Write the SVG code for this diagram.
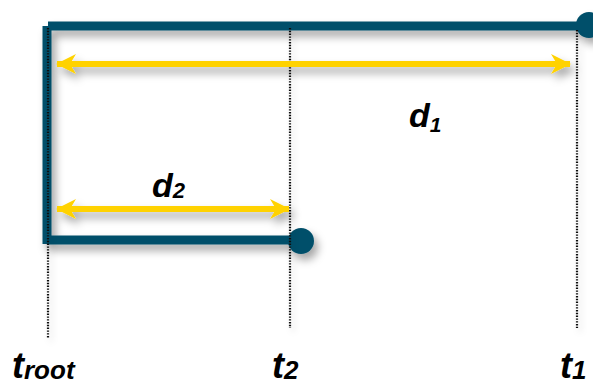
<svg xmlns="http://www.w3.org/2000/svg" width="593" height="385" viewBox="0 0 593 385">
<style>
.bar{stroke:#02506b;stroke-width:9;fill:none;stroke-linecap:butt}
.dot{stroke:#111;stroke-width:2.2;stroke-dasharray:1.4 1.4;fill:none}
.arr{stroke:#ffd200;stroke-width:6;fill:none}
.lbl{font-family:"Liberation Sans",Arial,sans-serif;font-weight:bold;font-style:italic;fill:#000}
</style>
<defs>
<filter id="sh" x="-20%" y="-20%" width="140%" height="160%">
<feDropShadow dx="4" dy="6" stdDeviation="4" flood-color="#000" flood-opacity="0.35"/>
</filter>
<filter id="shl" x="-200%" y="-5%" width="500%" height="110%">
<feDropShadow dx="3" dy="4" stdDeviation="3" flood-color="#000" flood-opacity="0.2"/>
</filter>
<marker id="ah" viewBox="0 0 20 20" refX="19" refY="10" markerWidth="20" markerHeight="20" markerUnits="userSpaceOnUse" orient="auto-start-reverse">
<path d="M0,0 L20,10 L0,20 L6,10 Z" fill="#ffd200"/>
</marker>
</defs>
<g id="connectors">
<g id="tree" filter="url(#sh)">
<path class="bar" d="M48,26 H585"/>
<path class="bar" d="M47,26 V244"/>
<path class="bar" d="M47,240 H300"/>
<circle cx="589" cy="25" r="13" fill="#02506b"/>
<circle cx="301" cy="241" r="13" fill="#02506b"/>
</g>
<g id="guides" filter="url(#shl)">
<line class="dot" x1="48" y1="28" x2="48" y2="338"/>
<line class="dot" x1="290" y1="28" x2="290" y2="328"/>
<line class="dot" x1="577" y1="30" x2="577" y2="328"/>
</g>
<g id="arrows" filter="url(#sh)">
<line class="arr" x1="57" y1="64" x2="570" y2="64" marker-start="url(#ah)" marker-end="url(#ah)"/>
<line class="arr" x1="57" y1="209" x2="289" y2="209" marker-start="url(#ah)" marker-end="url(#ah)"/>
</g>
</g>
<g id="d1"><text class="lbl" x="409" y="127" font-size="34">d<tspan font-size="21" dy="5">1</tspan></text></g>
<g id="d2"><text class="lbl" x="152" y="197" font-size="34">d<tspan font-size="22" dy="1">2</tspan></text></g>
<g id="troot"><text class="lbl" x="12" y="378" font-size="36">t<tspan font-size="26" dy="1">root</tspan></text></g>
<g id="t2"><text class="lbl" x="272" y="378" font-size="36">t<tspan font-size="26" dy="1">2</tspan></text></g>
<g id="t1"><text class="lbl" x="560" y="378" font-size="36">t<tspan font-size="26" dy="1">1</tspan></text></g>
</svg>
